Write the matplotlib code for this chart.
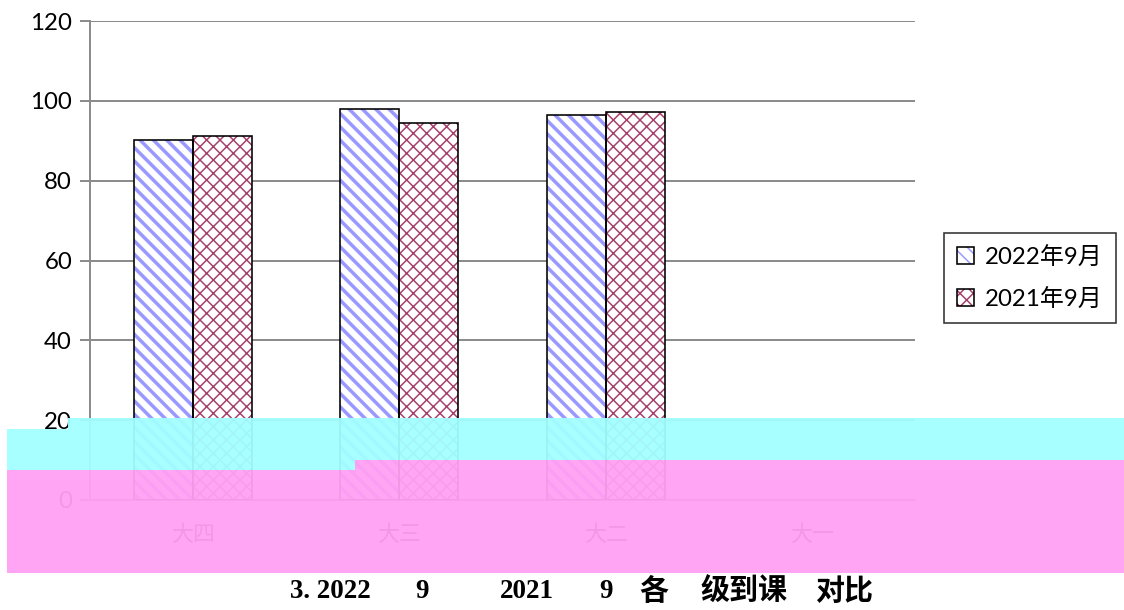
import matplotlib
matplotlib.use("Agg")
import matplotlib.pyplot as plt
from matplotlib.patches import Rectangle, Patch
import numpy as np

# data (attendance %, the last grade has no bars)
grades = ["大四", "大三", "大二", "大一"]
sep_2022 = [90.25, 98.0, 96.5]
sep_2021 = [91.25, 94.5, 97.25]
series_names = ["2022年9月", "2021年9月"]
yticks = [0, 20, 40, 60, 80, 100, 120]

# caption as it survives in the scan (missing glyphs left out)
caption_parts = ["3. 2022", "9", "2021", "9", "各", "级到课", "对比"]
caption_x = [290, 415, 500, 599, 639, 700, 815]

W, H, DPI = 1124, 610, 80
PT = 72 / DPI  # points per pixel

blue = "#9999ff"
red = "#a5406c"
grid_gray = "#8c8c8c"
num_font = ["Lato", "Noto Sans CJK SC"]


def hatched(ax, x, h, w, color, hatch, hlw):
    plt.rcParams["hatch.linewidth"] = hlw
    bars = ax.bar(x, h, w, color="white", edgecolor=color, linewidth=0,
                  hatch=hatch, zorder=2)
    for p in bars:
        if hasattr(p, "set_hatch_linewidth"):
            p.set_hatch_linewidth(hlw)
    ax.bar(x, h, w, fill=False, edgecolor="black", linewidth=1.6 * PT, zorder=3)


fig = plt.figure(figsize=(W / DPI, H / DPI), dpi=DPI)
ax = fig.add_axes([90 / W, 1 - 500 / H, 825 / W, 479 / H])

x = np.arange(len(sep_2022))
bw = 59 / (825 / len(grades))
hatched(ax, x - bw / 2, sep_2022, bw, blue, "\\\\", 3.5 * PT)
hatched(ax, x + bw / 2, sep_2021, bw, red, "xx", 1.5 * PT)

ax.set_xlim(-0.5, len(grades) - 0.5)
ax.set_ylim(0, 120)
ax.set_yticks(yticks)
ax.set_xticks(np.arange(len(grades)))
ax.set_xticklabels(grades, fontfamily="Noto Sans CJK SC", fontsize=22 * PT)
ax.tick_params(axis="x", length=0, pad=24 * PT)
ax.tick_params(axis="y", length=10 * PT, width=2 * PT, color=grid_gray,
               labelsize=24 * PT, pad=8 * PT)
for lab in ax.get_yticklabels():
    lab.set_fontfamily(num_font)
ax.yaxis.grid(True, color=grid_gray, linewidth=2 * PT)
ax.set_axisbelow(True)
for s in ["top", "right"]:
    ax.spines[s].set_visible(False)
ax.spines["left"].set_color(grid_gray)
ax.spines["left"].set_linewidth(2 * PT)
ax.spines["bottom"].set_color(grid_gray)
ax.spines["bottom"].set_linewidth(2 * PT)

# legend keys: hatched square with a black outline on top
blue_key = Patch(facecolor="white", edgecolor=blue, linewidth=0, hatch="\\\\")
red_key = Patch(facecolor="white", edgecolor=red, linewidth=0, hatch="xx")
for key, lw in [(blue_key, 3.0 * PT), (red_key, 1.5 * PT)]:
    if hasattr(key, "set_hatch_linewidth"):
        key.set_hatch_linewidth(lw)
handles = [
    (blue_key, Patch(fill=False, edgecolor="black", linewidth=1.6 * PT)),
    (red_key, Patch(fill=False, edgecolor="black", linewidth=1.6 * PT)),
]
leg = fig.legend(handles, series_names, loc="upper left",
                 bbox_to_anchor=(944 / W, 1 - 233 / H), bbox_transform=fig.transFigure,
                 borderaxespad=0, prop={"family": num_font, "size": 24 * PT},
                 handlelength=0.72, handleheight=0.72, handletextpad=0.42,
                 borderpad=0.55, labelspacing=0.8, fancybox=False)
leg.get_frame().set_edgecolor("black")
leg.get_frame().set_linewidth(1.6 * PT)


def block(x0, y0, x1, y1, color):
    fig.add_artist(Rectangle((x0 / W, 1 - y1 / H), (x1 - x0) / W, (y1 - y0) / H,
                             transform=fig.transFigure, facecolor=color,
                             linewidth=0, alpha=0.95, zorder=10))


# colour blocks that cover the lower part of the scanned chart
cyan = "#a2ffff"
pink = "#ffa0f3"
block(68, 418, W, 429, cyan)
block(7, 429, 355, 470, cyan)
block(355, 429, W, 460, cyan)
block(7, 470, 355, 573, pink)
block(355, 460, W, 573, pink)

for txt, cx in zip(caption_parts, caption_x):
    cjk = not txt[0].isdigit()
    fig.text(cx / W, 1 - 592 / H, txt, ha="left", va="center",
             fontsize=(29 if cjk else 27) * PT, fontweight="bold",
             fontfamily=["Liberation Serif", "Noto Sans CJK SC"])

fig.savefig("out.png", dpi=DPI)
